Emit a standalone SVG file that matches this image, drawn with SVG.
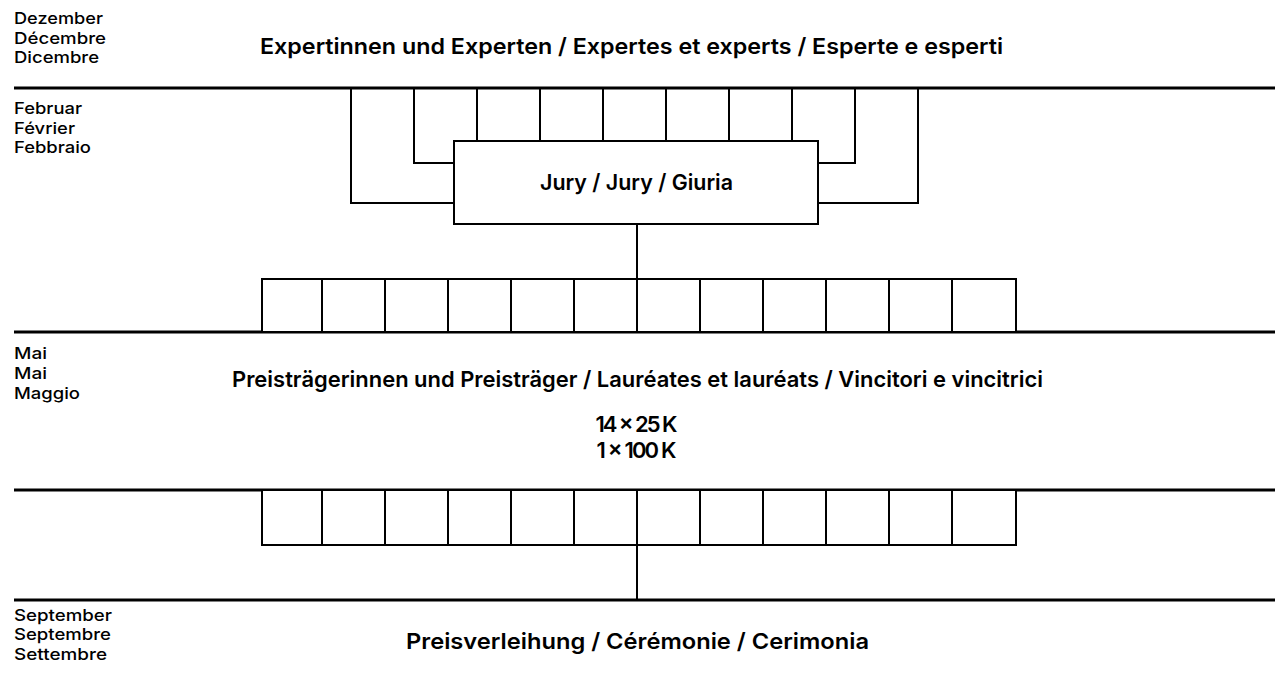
<svg xmlns="http://www.w3.org/2000/svg" width="1275" height="683" viewBox="0 0 1275 683">
<style>
.lbl{font-family:Inter,"Liberation Sans",sans-serif;font-size:16.5px;font-weight:500;fill:#000}
.ttl{font-family:Inter,"Liberation Sans",sans-serif;font-size:22px;font-weight:600;fill:#000;text-anchor:middle}
.sep{stroke:#000;stroke-width:3;fill:none}
.ln{stroke:#000;stroke-width:2;fill:none}
.box{stroke:#000;stroke-width:2;fill:#fff}
</style>
<rect width="1275" height="683" fill="#fff"/>
<g id="months">
<text class="lbl" x="14" y="24" textLength="89" lengthAdjust="spacingAndGlyphs">Dezember</text>
<text class="lbl" x="14" y="44" textLength="92" lengthAdjust="spacingAndGlyphs">Décembre</text>
<text class="lbl" x="14" y="63" textLength="85" lengthAdjust="spacingAndGlyphs">Dicembre</text>
<text class="lbl" x="14" y="114" textLength="68" lengthAdjust="spacingAndGlyphs">Februar</text>
<text class="lbl" x="14" y="134" textLength="61" lengthAdjust="spacingAndGlyphs">Février</text>
<text class="lbl" x="14" y="153" textLength="77" lengthAdjust="spacingAndGlyphs">Febbraio</text>
<text class="lbl" x="14" y="359" textLength="33" lengthAdjust="spacingAndGlyphs">Mai</text>
<text class="lbl" x="14" y="379" textLength="33" lengthAdjust="spacingAndGlyphs">Mai</text>
<text class="lbl" x="14" y="399" textLength="66" lengthAdjust="spacingAndGlyphs">Maggio</text>
<text class="lbl" x="14" y="621" textLength="98" lengthAdjust="spacingAndGlyphs">September</text>
<text class="lbl" x="14" y="640" textLength="97" lengthAdjust="spacingAndGlyphs">Septembre</text>
<text class="lbl" x="14" y="660" textLength="93" lengthAdjust="spacingAndGlyphs">Settembre</text>
</g>
<g id="separators">
<line class="sep" x1="14" y1="88" x2="1275" y2="88"/>
<line class="sep" x1="14" y1="332" x2="1275" y2="332"/>
<line class="sep" x1="14" y1="490" x2="1275" y2="490"/>
<line class="sep" x1="14" y1="600" x2="1275" y2="600"/>
</g>
<g id="connectors">
<polyline class="ln" points="351,88 351,203 454,203"/>
<polyline class="ln" points="414,88 414,163 454,163"/>
<line class="ln" x1="477" y1="88" x2="477" y2="141"/>
<line class="ln" x1="540" y1="88" x2="540" y2="141"/>
<line class="ln" x1="603" y1="88" x2="603" y2="141"/>
<line class="ln" x1="666" y1="88" x2="666" y2="141"/>
<line class="ln" x1="729" y1="88" x2="729" y2="141"/>
<line class="ln" x1="792" y1="88" x2="792" y2="141"/>
<polyline class="ln" points="855,88 855,163 818,163"/>
<polyline class="ln" points="918,88 918,203 818,203"/>
<line class="ln" x1="637" y1="224" x2="637" y2="279"/>
<line class="ln" x1="637" y1="545" x2="637" y2="600"/>
</g>
<g id="experts">
<text class="ttl" x="631.5" y="54" textLength="743" lengthAdjust="spacingAndGlyphs">Expertinnen und Experten / Expertes et experts / Esperte e esperti</text>
</g>
<g id="jury">
<rect class="box" x="454" y="141" width="364" height="83"/>
<text class="ttl" x="636.5" y="190" textLength="193" lengthAdjust="spacingAndGlyphs">Jury / Jury / Giuria</text>
</g>
<g id="row1">
<rect class="box" x="262" y="279" width="754" height="53"/>
<path class="ln" d="M322 279V332M385 279V332M448 279V332M511 279V332M574 279V332M637 279V332M700 279V332M763 279V332M826 279V332M889 279V332M952 279V332"/>
</g>
<g id="laureates">
<text class="ttl" x="637.5" y="387" textLength="811" lengthAdjust="spacingAndGlyphs">Preisträgerinnen und Preisträger / Lauréates et lauréats / Vincitori e vincitrici</text>
<text class="ttl" x="636.5" y="432" textLength="82" lengthAdjust="spacing">14 × 25 K</text>
<text class="ttl" x="636.5" y="458" textLength="80" lengthAdjust="spacing">1 × 100 K</text>
</g>
<g id="row2">
<rect class="box" x="262" y="490" width="754" height="55"/>
<path class="ln" d="M322 490V545M385 490V545M448 490V545M511 490V545M574 490V545M637 490V545M700 490V545M763 490V545M826 490V545M889 490V545M952 490V545"/>
</g>
<g id="ceremony">
<text class="ttl" x="637.5" y="649" textLength="463" lengthAdjust="spacingAndGlyphs">Preisverleihung / Cérémonie / Cerimonia</text>
</g>
</svg>
